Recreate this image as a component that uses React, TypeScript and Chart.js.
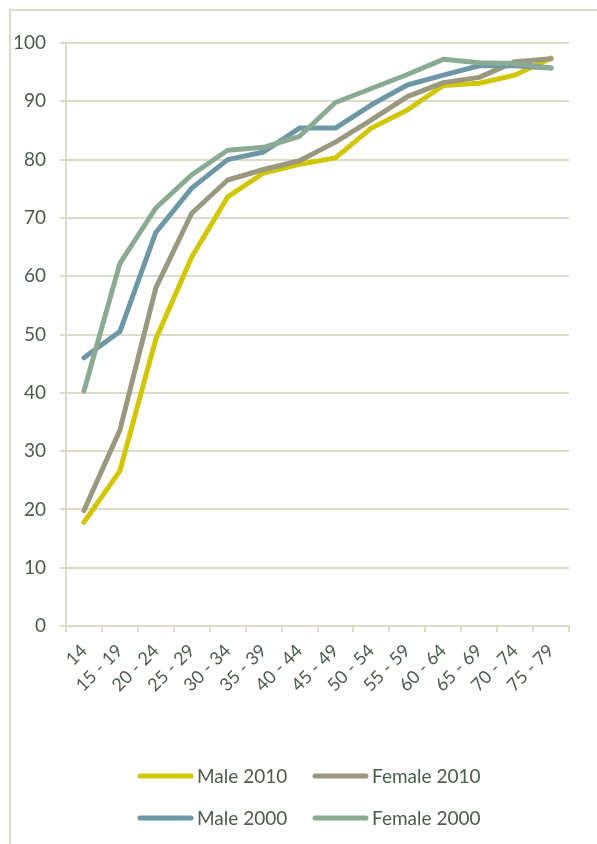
import React, { useEffect, useRef } from "react";
import { Chart, registerables } from "chart.js";

Chart.register(...registerables);

const categories = ["14", "15 - 19", "20 - 24", "25 - 29", "30 - 34", "35 - 39", "40 - 44", "45 - 49", "50 - 54", "55 - 59", "60 - 64", "65 - 69", "70 - 74", "75 - 79"];
const male2010 = [17.8, 26.6, 49.2, 63.3, 73.6, 77.7, 79.2, 80.3, 85.4, 88.5, 92.7, 93.1, 94.5, 97.4];
const female2010 = [19.8, 33.6, 58.0, 70.8, 76.5, 78.3, 79.8, 83.0, 86.8, 90.8, 93.2, 94.1, 96.8, 97.3];
const male2000 = [46.0, 50.5, 67.5, 75.1, 80.0, 81.3, 85.4, 85.4, 89.4, 92.8, 94.5, 96.1, 96.1, 95.7];
const female2000 = [40.3, 62.2, 71.7, 77.4, 81.6, 82.1, 84.0, 89.8, 92.2, 94.6, 97.2, 96.6, 96.5, 95.7];
const seriesLabels = ["Male 2010", "Female 2010", "Male 2000", "Female 2000"];
const seriesColors = ["#D0C700", "#9B9880", "#6E97A5", "#8BAA93"];
const yTicks = [0, 10, 20, 30, 40, 50, 60, 70, 80, 90, 100];

const TEXT = "#4A5C4C";
const GRID = "#DEDCC8";
const FONT = "Lato";

const legendPlugin = {
  id: "customLegend",
  afterDraw(chart: any) {
    const ctx = chart.ctx;
    const cx = chart.width / 2;
    const base = chart.chartArea.bottom;
    const cols = [cx - 166, cx + 9];
    const rows = [base + 150, base + 192];
    chart.data.datasets.forEach((ds: any, i: number) => {
      const x = cols[i % 2];
      const y = rows[Math.floor(i / 2)];
      ctx.save();
      ctx.strokeStyle = ds.borderColor;
      ctx.lineWidth = 5;
      ctx.lineCap = "round";
      ctx.beginPath();
      ctx.moveTo(x + 2, y);
      ctx.lineTo(x + 53, y);
      ctx.stroke();
      ctx.fillStyle = TEXT;
      ctx.font = `19px ${FONT}`;
      ctx.textBaseline = "middle";
      ctx.textAlign = "left";
      ctx.fillText(ds.label, x + 59, y + 1);
      ctx.restore();
    });
  },
};

export default function App() {
  const ref = useRef<HTMLCanvasElement>(null);

  useEffect(() => {
    if (!ref.current) return;
    const series = [male2010, female2010, male2000, female2000];
    const chart = new Chart(ref.current, {
      type: "line",
      data: {
        labels: categories,
        datasets: series.map((d, i) => ({
          label: seriesLabels[i],
          data: d,
          borderColor: seriesColors[i],
          backgroundColor: seriesColors[i],
          borderWidth: 5,
          pointRadius: 0,
          tension: 0,
          borderCapStyle: "round" as const,
          borderJoinStyle: "round" as const,
          order: 4 - i,
        })),
      },
      options: {
        responsive: false,
        animation: false,
        devicePixelRatio: 1,
        layout: { padding: { top: 32, right: 28, left: 0, bottom: 0 } },
        plugins: {
          legend: { display: false },
          tooltip: { enabled: false },
        },
        scales: {
          x: {
            offset: true,
            afterFit(scale: any) {
              scale.height = 218;
            },
            grid: {
              offset: true,
              drawOnChartArea: false,
              drawTicks: true,
              tickLength: 6,
              color: GRID,
              lineWidth: 2,
            },
            border: { color: GRID, width: 2 },
            ticks: {
              autoSkip: false,
              maxRotation: 45,
              minRotation: 45,
              padding: 8,
              color: TEXT,
              font: { family: FONT, size: 18 },
            },
          },
          y: {
            min: 0,
            max: 100,
            afterFit(scale: any) {
              scale.width = 55;
            },
            afterBuildTicks(scale: any) {
              scale.ticks = yTicks.map((v) => ({ value: v }));
            },
            grid: {
              color: GRID,
              lineWidth: 2,
              drawTicks: true,
              tickLength: 6,
            },
            border: { color: GRID, width: 2 },
            ticks: {
              padding: 14,
              color: TEXT,
              font: { family: FONT, size: 19 },
            },
          },
        },
      },
      plugins: [legendPlugin],
    });
    return () => chart.destroy();
  }, []);

  return (
    <div
      style={{
        position: "absolute",
        left: 9,
        top: 9,
        width: 586,
        height: 833,
        borderTop: `2px solid ${GRID}`,
        borderLeft: `2px solid ${GRID}`,
        overflow: "hidden",
        background: "#fff",
      }}
    >
      <canvas ref={ref} width={586} height={833} style={{ display: "block" }} />
    </div>
  );
}
